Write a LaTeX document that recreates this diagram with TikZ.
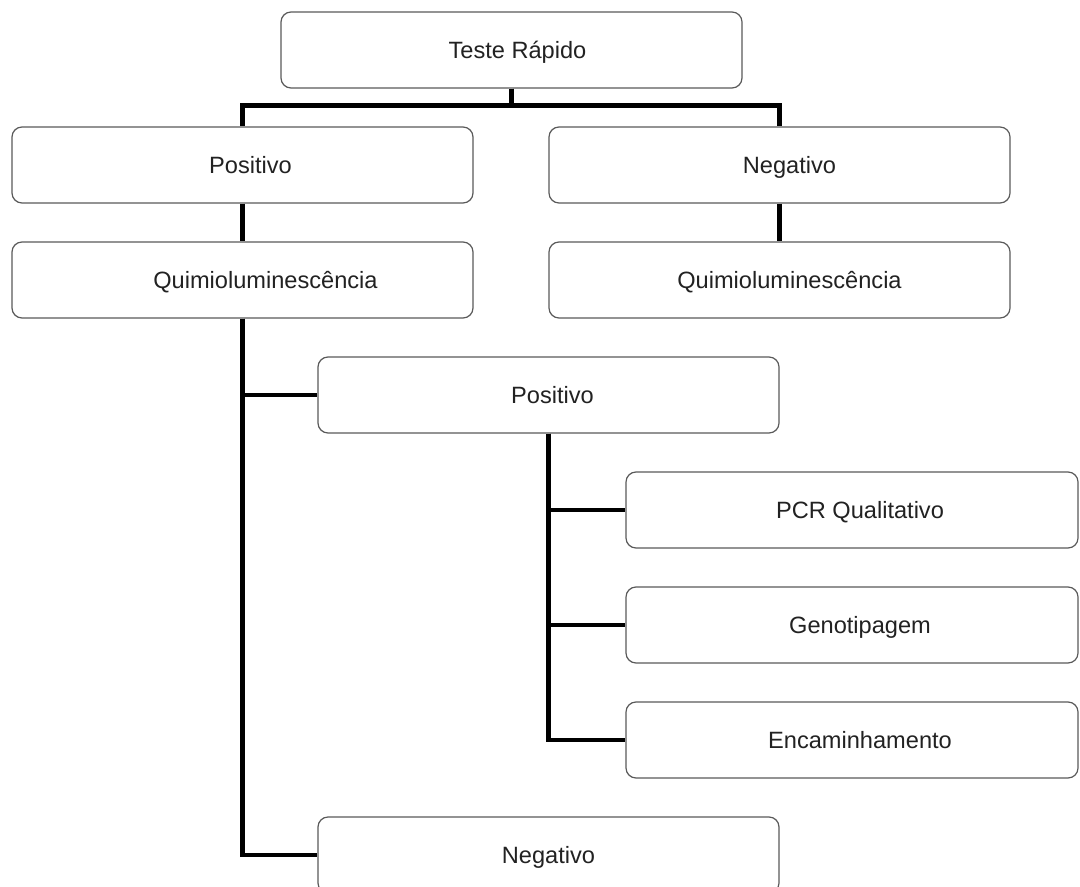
\documentclass[tikz,border=0pt]{standalone}
\usepackage{fontspec}
\setmainfont{Liberation Sans}
\usepackage{tikz}
\usetikzlibrary{positioning}
\definecolor{boxline}{HTML}{5A5A5A}
\definecolor{darktext}{HTML}{222222}
\tikzset{
  pad/.store in=\boxpad, pad=8pt,
  stepnode/.style={draw=boxline,line width=0.6pt,rounded corners=5pt,fill=white,minimum width=230.5pt,minimum height=38pt,inner sep=0pt,text height=8.4pt,text depth=0pt,font=\fontsize{11.8}{14}\selectfont,text=darktext,execute at begin node=\hspace*{\boxpad}},
  leafnode/.style={stepnode,minimum width=226pt},
  conn/.style={line width=2.4pt,black}
}
\begin{document}
\begin{tikzpicture}[x=0.5pt,y=-0.5pt]
  \clip (0,0) rectangle (1080,887);
  \fill[white] (0,0) rectangle (1080,887);

  \node[stepnode,pad=6pt] (teste) at (511.5,50) {Teste Rápido};

  \node[stepnode] (pos1) at (242.5,165) {Positivo};
  \node[stepnode,pad=10pt] (neg1) at (779.5,165) {Negativo};
  \node[stepnode,pad=23pt] (quim1) at (242.5,280) {Quimioluminescência};
  \node[stepnode,pad=10pt] (quim2) at (779.5,280) {Quimioluminescência};

  \node[stepnode,pad=4pt] (pos2) at (548.5,395) {Positivo};
  \node[stepnode,pad=0pt] (neg2) at (548.5,855) {Negativo};

  % exames do positivo
  \node[leafnode] (pcr) at (852,510) {PCR Qualitativo};
  \node[leafnode] (geno) at (852,625) {Genotipagem};
  \node[leafnode] (enc) at (852,740) {Encaminhamento};

  \draw[conn] (teste.south) -- ++(0,17) -| (pos1.north);
  \draw[conn] (teste.south) -- ++(0,17) -| (neg1.north);
  \draw[conn] (pos1) -- (quim1);
  \draw[conn] (neg1) -- (quim2);

  \draw[conn] (quim1.south) |- (pos2.west);
  \draw[conn] (quim1.south) |- (neg2.west);

  \draw[conn] (pos2.south) |- (pcr.west);
  \draw[conn] (pos2.south) |- (geno.west);
  \draw[conn] (pos2.south) |- (enc.west);
\end{tikzpicture}
\end{document}
